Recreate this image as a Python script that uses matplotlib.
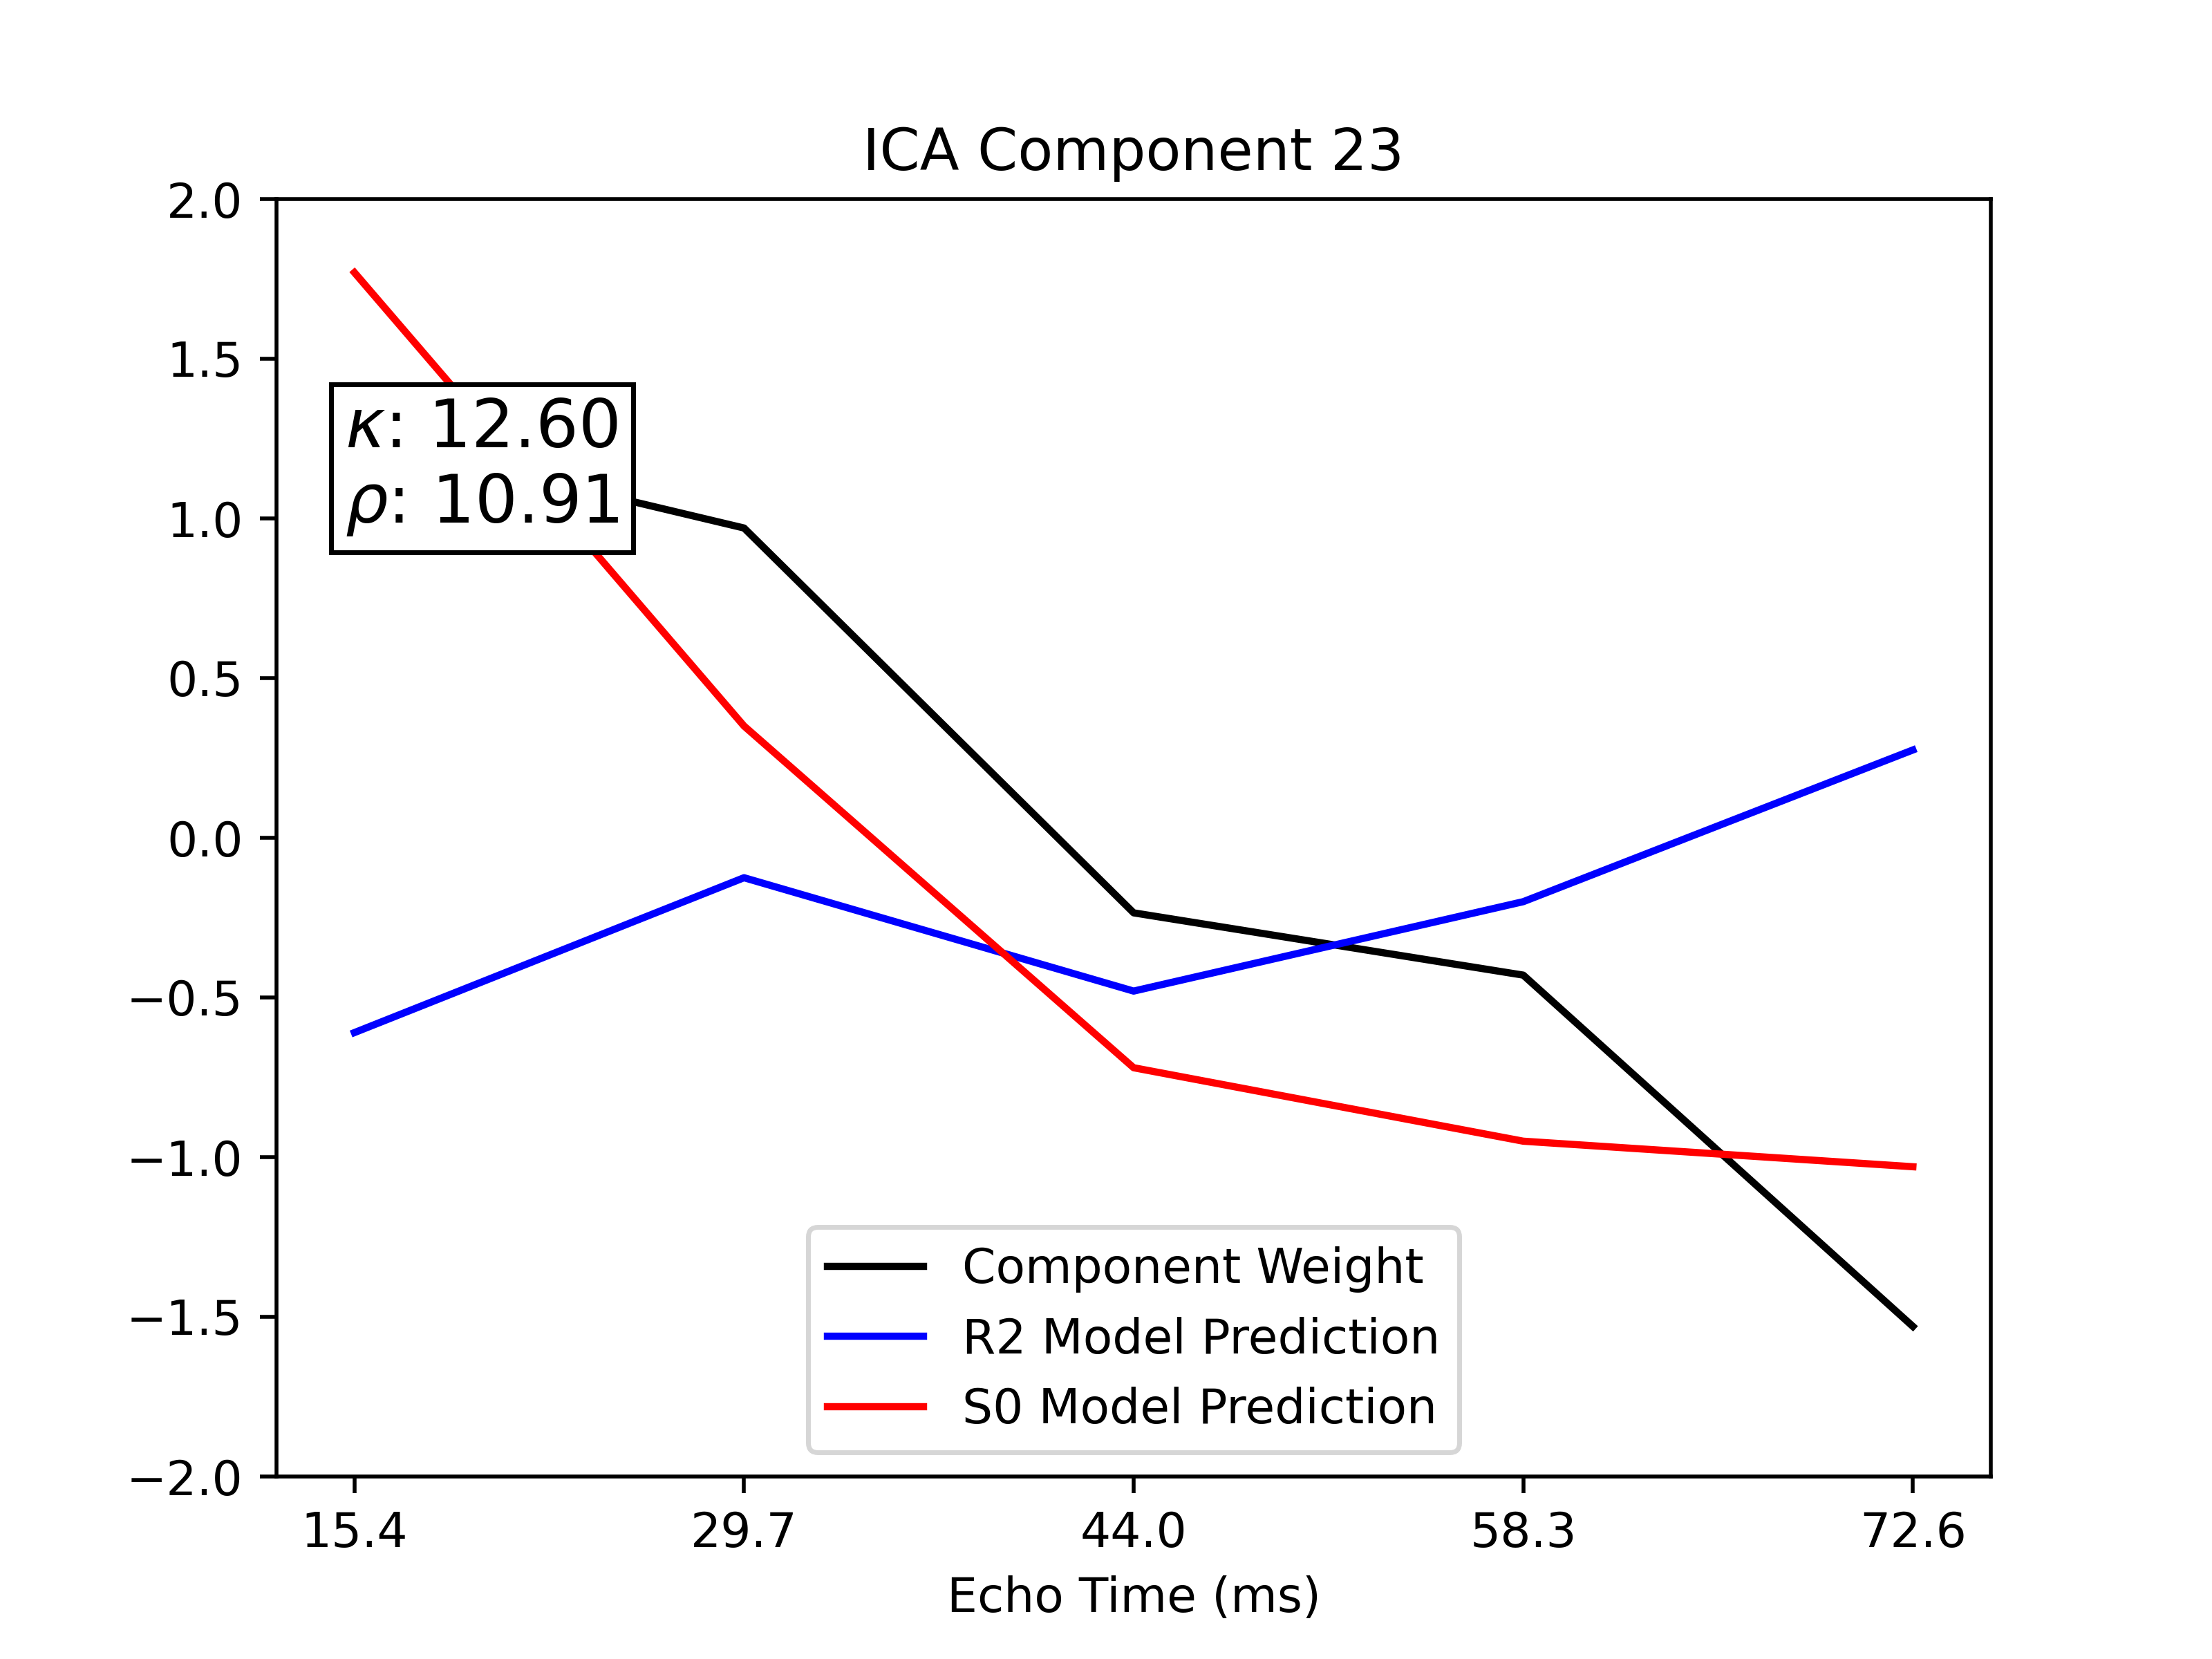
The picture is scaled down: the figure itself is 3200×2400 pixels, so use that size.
import matplotlib
matplotlib.use('Agg')
import matplotlib.pyplot as plt

echo_times = [15.4, 29.7, 44.0, 58.3, 72.6]
comp_weight = [1.26, 0.97, -0.235, -0.43, -1.53]
r2_pred = [-0.61, -0.125, -0.48, -0.20, 0.275]
s0_pred = [1.77, 0.35, -0.72, -0.95, -1.03]
kappa = 12.60
rho = 10.91

fig, ax = plt.subplots(figsize=(6.4, 4.8))
ax.plot(echo_times, comp_weight, color='black', label='Component Weight')
ax.plot(echo_times, r2_pred, color='blue', label='R2 Model Prediction')
ax.plot(echo_times, s0_pred, color='red', label='S0 Model Prediction')
ax.set_ylim(-2, 2)
ax.set_xticks(echo_times)
ax.set_xticklabels([f'{t:.1f}' for t in echo_times])
ax.set_xlabel('Echo Time (ms)')
ax.set_title('ICA Component 23')
ax.legend(loc='lower center')
ax.text(0.04, 0.845, r'$\kappa$: %.2f' % kappa + '\n' + r'$\rho$: %.2f' % rho,
        transform=ax.transAxes, fontsize=14, va='top', ha='left',
        bbox=dict(facecolor='white', edgecolor='black', pad=3))
fig.savefig('out.png', dpi=500)
